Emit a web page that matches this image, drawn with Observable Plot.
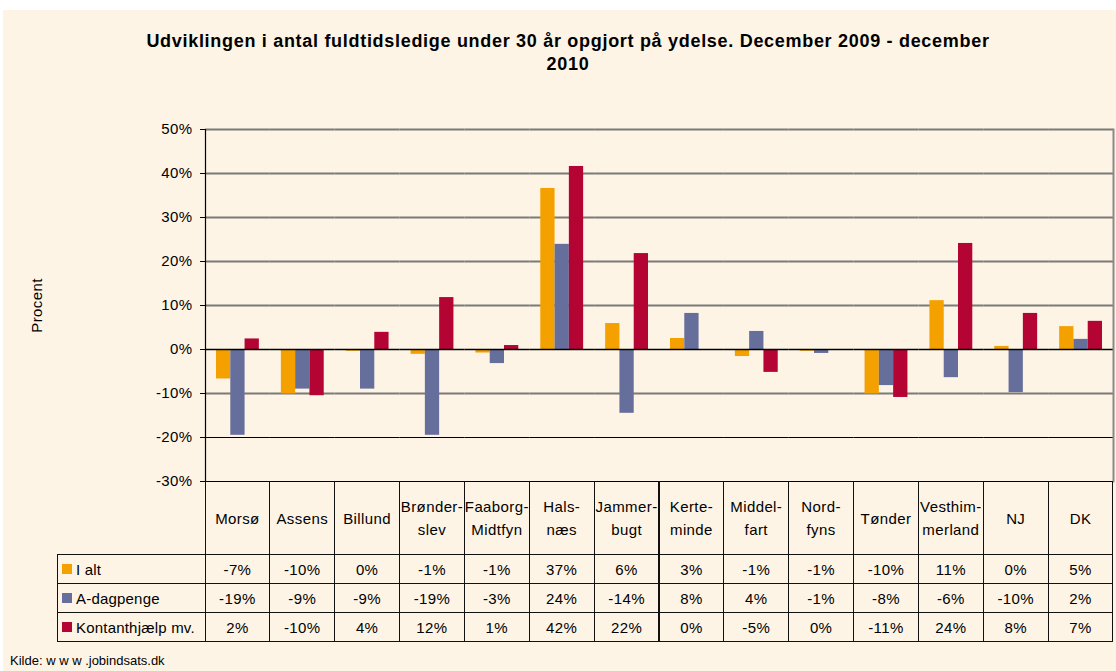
<!DOCTYPE html>
<html><head><meta charset="utf-8">
<script src="https://cdn.jsdelivr.net/npm/d3@7"></script>
<script src="https://cdn.jsdelivr.net/npm/@observablehq/plot@0.6"></script>
<style>
html,body{margin:0;padding:0;background:#fff;}
#page{position:absolute;left:3px;top:10px;width:1113px;height:661px;background:#fdf4e6;font-family:"Liberation Sans",Arial,sans-serif;color:#000;overflow:hidden}
#title{position:absolute;left:0;top:20px;width:1130px;text-align:center;font-weight:bold;font-size:18px;letter-spacing:0.7px;line-height:23px}
#chart{position:absolute;left:0;top:0}
#chart svg{background:transparent;overflow:visible}
.cell{position:absolute;box-sizing:border-box;display:flex;align-items:center;justify-content:center;text-align:center;font-size:15px;letter-spacing:0.4px;line-height:23px}
#kilde{position:absolute;left:7px;top:643px;font-size:13px}
</style></head>
<body><div id="page">
<div id="title">Udviklingen i antal fuldtidsledige under 30 år opgjort på ydelse. December 2009 - december<br>2010</div>
<div id="chart"></div>
<div id="table"></div>
<div id="kilde">Kilde: w w w .jobindsats.dk</div>
</div>
<script>
const categories = ["Morsø","Assens","Billund","Brønderslev","Faaborg-Midtfyn","Halsnæs","Jammerbugt","Kerteminde","Middelfart","Nordfyns","Tønder","Vesthimmerland","NJ","DK"];
const categoryLabels = [["Morsø"],["Assens"],["Billund"],["Brønder-","slev"],["Faaborg-","Midtfyn"],["Hals-","næs"],["Jammer-","bugt"],["Kerte-","minde"],["Middel-","fart"],["Nord-","fyns"],["Tønder"],["Vesthim-","merland"],["NJ"],["DK"]];
const seriesNames = ["I alt","A-dagpenge","Kontanthjælp mv."];
const seriesColors = ["#f4a100","#666e9c","#b30434"];
const iAlt =        [-6.7,-10.1,-0.4,-1.1,-0.8,36.6, 5.9,2.5,-1.6,-0.4,-10.1,11.1, 0.7,5.2];
const aDagpenge =   [-19.5,-9.0,-9.0,-19.5,-3.2,23.9,-14.5,8.2,4.1,-0.9,-8.2,-6.4,-9.8,2.3];
const kontant =     [2.4,-10.5,3.9,11.8,0.9,41.6,21.8,0.0,-5.2,0.0,-10.9,24.1,8.2,6.4];
const tableIAlt =      ["-7%","-10%","0%","-1%","-1%","37%","6%","3%","-1%","-1%","-10%","11%","0%","5%"];
const tableADagpenge = ["-19%","-9%","-9%","-19%","-3%","24%","-14%","8%","4%","-1%","-8%","-6%","-10%","2%"];
const tableKontant =   ["2%","-10%","4%","12%","1%","42%","22%","0%","-5%","0%","-11%","24%","8%","7%"];
const yTicks = [-30,-20,-10,0,10,20,30,40,50];

const seriesValues = [iAlt, aDagpenge, kontant];
const data = [];
categories.forEach((c,i) => seriesNames.forEach((s,j) => data.push({cat:c, series:s, value:seriesValues[j][i]})));

const W = 1111, H = 472, ML = 202, MR = 1, MT = 119, MB = 1;
const chart = Plot.plot({
  width: W, height: H,
  marginLeft: ML, marginRight: MR, marginTop: MT, marginBottom: MB,
  style: {background:"transparent", fontFamily:'"Liberation Sans", Arial, sans-serif', fontSize:"15px", color:"#000", letterSpacing:"0.4px"},
  fx: {domain: categories, padding: 0, axis: null, round: false},
  x: {domain: seriesNames, paddingInner: 0, paddingOuter: 0.77, axis: null, round: false},
  y: {domain: [-30,50], axis: null},
  color: {domain: seriesNames, range: seriesColors},
  marks: [
    Plot.ruleY(yTicks.filter(d => d > -20 && d !== 0), {stroke:"#7c7a76", strokeWidth:2}),
    Plot.ruleY([-20,-30], {stroke:"#000", strokeWidth:1.2}),
    Plot.barY(data, {fx:"cat", x:"series", y:"value", fill:"series", inset:0}),
    Plot.ruleY([0], {stroke:"#000", strokeWidth:1.6}),
    Plot.frame({anchor:"left", stroke:"#000", strokeWidth:1.2, facetAnchor:"left"}),
    Plot.frame({anchor:"right", stroke:"#8c8a86", strokeWidth:2, facetAnchor:"right"}),
    Plot.axisY({ticks: yTicks, tickFormat: d => d + "%", tickSize: 5, tickPadding: 8, fontSize: 15, anchor:"left",
      label: "Procent", labelAnchor: "center", labelOffset: 174, labelArrow: "none"})
  ]
});
document.getElementById("chart").appendChild(chart);

// table
const tbl = document.getElementById("table");
const plotLeft = ML, plotRight = W - MR, colW = (plotRight - plotLeft) / categories.length;
const tableTop = H - MB, headH = 73, rowH = 29, leftX = 54;
function cell(x, y, w, h, html, extra) {
  const d = document.createElement("div");
  d.className = "cell";
  d.style.left = x + "px"; d.style.top = y + "px"; d.style.width = w + "px"; d.style.height = h + "px";
  Object.assign(d.style, extra || {});
  d.innerHTML = html;
  tbl.appendChild(d);
  return d;
}
const B = "1px solid #111";
categories.forEach((c,i) => {
  const x = plotLeft + i*colW;
  cell(x - 0.5, tableTop, colW + 1, headH + 1, categoryLabels[i].join("<br>"), {borderLeft:B, borderRight:B});
});
const tableRows = [tableIAlt, tableADagpenge, tableKontant];
tableRows.forEach((row, r) => {
  const y = tableTop + headH + r*rowH;
  cell(leftX, y, plotLeft - leftX + 0.5, rowH + 1,
    `<span style="display:inline-block;width:10px;height:10px;background:${seriesColors[r]};margin-right:4px;vertical-align:-1px"></span>${seriesNames[r]}`,
    {border:B, borderRight:"none", justifyContent:"flex-start", paddingLeft:"4px", letterSpacing:"0.2px"});
  row.forEach((v, i) => {
    const x = plotLeft + i*colW;
    cell(x - 0.5, y, colW + 1, rowH + 1, v, {borderLeft:B, borderRight:B, borderTop:B, borderBottom:B});
  });
});
</script>
</body></html>
